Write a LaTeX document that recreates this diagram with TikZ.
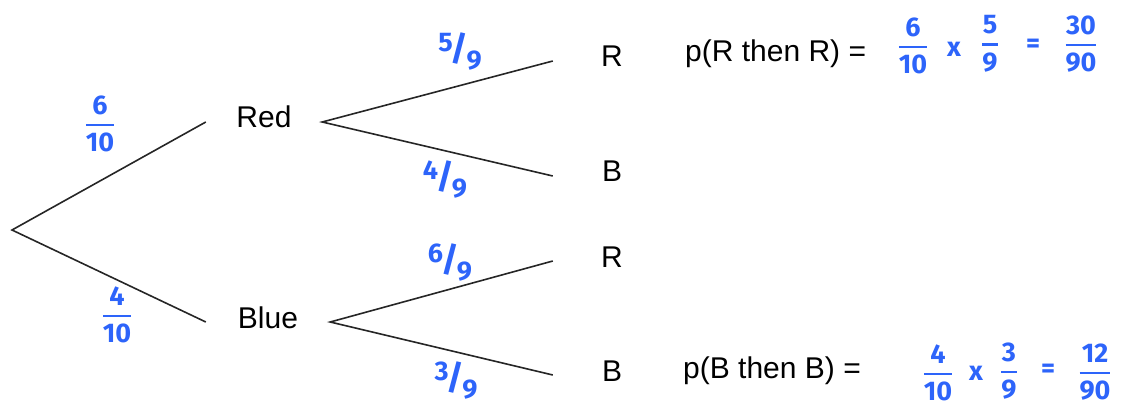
\documentclass[tikz,border=0pt]{standalone}
\usepackage{amsmath}
\usepackage{fontspec}
\setmainfont{Liberation Sans}
\newfontfamily\handfont{Fira Sans}
\definecolor{handblue}{RGB}{45,100,250}
\newcommand{\hfr}[2]{$\genfrac{}{}{2.4pt}{0}{\text{#1}}{\text{#2}}$}
\newcommand{\sfr}[2]{\raisebox{9pt}{#1}\kern-2pt{\fontsize{34}{34}\selectfont /}\kern-2pt\raisebox{-9pt}{#2}}
\begin{document}
\begin{tikzpicture}[x=1pt,y=-1pt,
  branch/.style={draw=black!85, line width=1.6pt},
  tnode/.style={font=\fontsize{30}{30}\selectfont, inner sep=0pt, text height=21pt, text depth=9pt},
  hand/.style={font=\handfont\bfseries\fontsize{27}{27}\selectfont, text=handblue, inner sep=0pt},
  eqtext/.style={font=\fontsize{30}{30}\selectfont, inner sep=0pt, anchor=base west}]
\useasboundingbox (0,0) rectangle (1122,409);
\coordinate (root) at (12,230);
\node[tnode, minimum width=116pt] (red) at (264,122) {Red};
\node[tnode, minimum width=124pt] (blue) at (268,322) {Blue};
\node[tnode, minimum width=118pt] (rr) at (612,61) {R};
\node[tnode, minimum width=118pt] (rb) at (612,176) {B};
\node[tnode, minimum width=118pt] (br) at (612,261) {R};
\node[tnode, minimum width=118pt] (bb) at (612,375) {B};
\draw[branch] (red.west) -- (root) -- (blue.west);
\draw[branch] (rr.west) -- (red.east) -- (rb.west);
\draw[branch] (br.west) -- (blue.east) -- (bb.west);
% branch probabilities
\node[hand] (l1) at (100,124) {\hfr{6}{10}};
\node[hand] (l2) at (117,315) {\hfr{4}{10}};
\node[hand] (l3) at (460,52) {\sfr{5}{9}};
\node[hand] (l4) at (445,180) {\sfr{4}{9}};
\node[hand] (l5) at (450,263) {\sfr{6}{9}};
\node[hand] (l6) at (456,381) {\sfr{3}{9}};
% formulas
\node[eqtext] (p1) at (685,62) {p(R then R) =};
\node[hand] (f1a) at (913,46) {\hfr{6}{10}};
\node[hand] (f1x) at (954,49) {x};
\node[hand] (f1b) at (990,44) {\hfr{5}{9}};
\node[hand] (f1e) at (1033,46) {=};
\node[hand] (f1c) at (1081,44) {\hfr{30}{90}};
\node[eqtext] (p2) at (683,378) {p(B then B) =};
\node[hand] (f2a) at (938,373) {\hfr{4}{10}};
\node[hand] (f2x) at (976,373) {x};
\node[hand] (f2b) at (1009,371) {\hfr{3}{9}};
\node[hand] (f2e) at (1048,371) {=};
\node[hand] (f2c) at (1095,372) {\hfr{12}{90}};
\end{tikzpicture}
\end{document}
